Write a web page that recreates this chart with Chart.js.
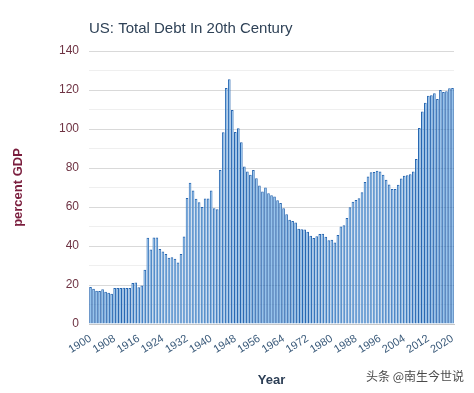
<!DOCTYPE html>
<html>
<head>
<meta charset="utf-8">
<script src="https://cdn.jsdelivr.net/npm/chart.js@4"></script>
<style>
  html, body { margin: 0; padding: 0; background: #fff; }
  #wrap { width: 474px; height: 393px; }
</style>
</head>
<body>
<div id="wrap"><canvas id="chart"></canvas></div>
<script>
const chartTitle = 'US: Total Debt In 20th Century'
const watermark = '头条 @南生今世说'

const firstYear = 1900
const lastYear = 2020
const tickEvery = 8

// percent of GDP, one value per year 1900..2020
const debt = [
  19, 18.1, 17.1, 16.9, 17.8, 16.5, 16, 15.5, 18.4, 18.4,
  18.4, 18.6, 18.4, 18.4, 21, 21.3, 18.8, 19.8, 27.8, 44.2,
  38.2, 44.4, 44.4, 38.4, 37.2, 35.9, 34, 34.2, 33.5, 31.6,
  35.9, 44.9, 64.6, 72.5, 68.5, 64.2, 62.5, 60, 64.4, 64.4,
  68.5, 59.4, 58.9, 79, 98.3, 121, 125.5, 109.8, 98.4, 100.4,
  93.2, 80.8, 78.2, 76.6, 79, 74.8, 71, 68, 70, 67,
  66, 65.4, 63.5, 62, 59.4, 56.3, 53.4, 52.8, 52, 48.8,
  48.6, 48.4, 47.3, 45.2, 44.1, 45, 46.1, 46.3, 44.8, 43,
  43.2, 41.8, 45.7, 50, 50.7, 54.3, 59.9, 62.7, 63.6, 64.5,
  67.6, 72.8, 75.6, 77.8, 77.9, 78.6, 78.2, 76.5, 74, 71.6,
  69.2, 69.2, 71.4, 74.6, 76, 76.3, 76.8, 78.2, 84.6, 100.5,
  109, 113.5, 117, 117.3, 118.3, 115.4, 120, 119, 119.3, 120.9,
  121
]

const years = []
for (let y = firstYear; y <= lastYear; y++) years.push(String(y))

const fontFamily = 'Arial, "Liberation Sans", sans-serif'

// title and watermark drawn by hand so the title lines up with the plot
const extraText = {
  id: 'extraText',
  afterDraw(chart) {
    const ctx = chart.ctx
    ctx.save()
    ctx.fillStyle = '#2f4257'
    ctx.font = '15px ' + fontFamily
    ctx.textBaseline = 'alphabetic'
    ctx.textAlign = 'left'
    ctx.fillText(chartTitle, chart.chartArea.left, 33)
    ctx.fillStyle = '#4a4a4a'
    ctx.font = '12px "Noto Sans CJK SC", sans-serif'
    ctx.textAlign = 'right'
    ctx.fillText(watermark, 464, 381)
    ctx.restore()
  }
}

new Chart(document.getElementById('chart'), {
  type: 'bar',
  data: {
    labels: years,
    datasets: [{
      label: 'percent GDP',
      data: debt,
      backgroundColor: '#86bff0',
      borderColor: '#2766b0',
      borderWidth: 1,
      barPercentage: 0.88,
      categoryPercentage: 1
    }]
  },
  options: {
    responsive: true,
    maintainAspectRatio: false,
    animation: false,
    layout: { padding: { top: 51, right: 20, left: 0, bottom: 0 } },
    plugins: {
      legend: { display: false },
      tooltip: { enabled: false }
    },
    scales: {
      x: {
        grid: { display: false },
        border: { display: true, color: '#c8c8c8' },
        ticks: {
          autoSkip: false,
          minRotation: 32,
          maxRotation: 32,
          padding: 0,
          color: '#3a5a7a',
          font: { family: fontFamily, size: 11 },
          callback: function (val, i) {
            return i % tickEvery === 0 ? this.getLabelForValue(val) : ''
          }
        },
        title: {
          display: true,
          text: 'Year',
          color: '#2c3e55',
          font: { family: fontFamily, size: 13, weight: 'bold' },
          padding: { top: 0, bottom: 5 }
        },
        afterFit(scale) { scale.height = 69 }
      },
      y: {
        min: 0,
        max: 140,
        border: { display: false },
        grid: {
          drawTicks: false,
          color: (c) => (c.tick && c.tick.value % 20 === 0) ? '#d9d9d9' : '#efefef'
        },
        ticks: {
          stepSize: 10,
          autoSkip: false,
          padding: 10,
          color: '#6e3343',
          font: { family: fontFamily, size: 12 },
          callback: (v) => v % 20 === 0 ? v : ''
        },
        title: {
          display: true,
          text: 'percent GDP',
          color: '#7a1d3d',
          font: { family: fontFamily, size: 13, weight: 'bold' },
          padding: { top: 11, bottom: 0 }
        },
        afterFit(scale) { scale.width = 89 }
      }
    }
  },
  plugins: [extraText]
})
</script>
</body>
</html>
